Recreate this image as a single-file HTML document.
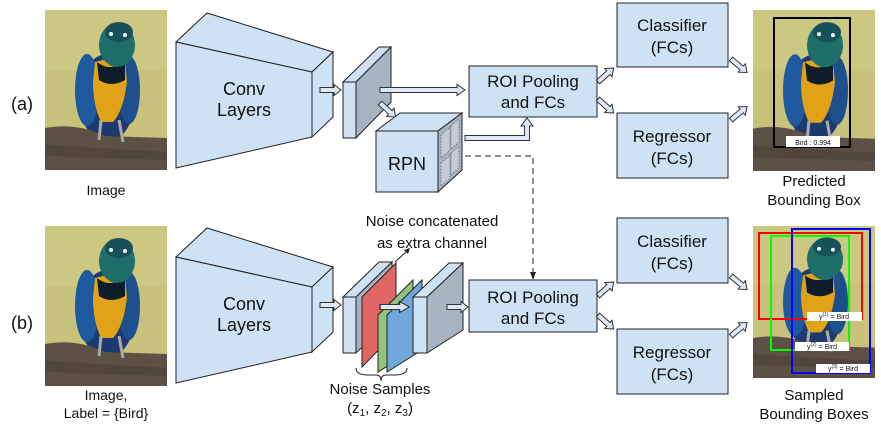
<!DOCTYPE html>
<html><head><meta charset="utf-8"><style>
html,body{margin:0;padding:0;background:#fff;}
svg{display:block;}
text{font-family:"Liberation Sans",Arial,sans-serif;fill:#111;}
</style></head><body>
<svg width="881" height="427" viewBox="0 0 881 427" xmlns="http://www.w3.org/2000/svg">
<defs>
<symbol id="bird" viewBox="0 0 122 160" preserveAspectRatio="none">
<rect x="0" y="0" width="122" height="160" fill="#c8c27c"/>
<rect x="0" y="0" width="122" height="60" fill="#cfc985" opacity="0.6"/>
<ellipse cx="62" cy="88" rx="28" ry="44" fill="#1d3a6e"/>
<ellipse cx="42" cy="80" rx="12" ry="36" fill="#1f5aa0"/>
<ellipse cx="84" cy="80" rx="11" ry="34" fill="#1c4f8c"/>
<path d="M50 52 Q62 48 80 50 L82 72 Q78 102 68 112 L56 112 Q48 95 48 72 Z" fill="#e0a318"/>
<path d="M52 52 Q64 62 80 52 L80 70 Q66 78 54 70 Z" fill="#0f1c2a"/>
<ellipse cx="72" cy="35" rx="18" ry="22" fill="#1e6e6a"/>
<ellipse cx="74" cy="22" rx="14" ry="10" fill="#17525a"/>
<circle cx="66" cy="24" r="2" fill="#fff"/><circle cx="80" cy="25" r="2" fill="#fff"/>
<path d="M0 118 Q30 112 60 126 L122 128 L122 160 L0 160 Z" fill="#5d5045"/>
<path d="M0 135 L122 142 L122 150 L0 146 Z" fill="#4a3f36" opacity="0.6"/>
<path d="M56 110 L54 130 M74 110 L78 132" stroke="#aaa" stroke-width="3"/>
</symbol>
<polygon id="ba" points="0,-2.5 14,-2.5 14,-5.5 21,0 14,5.5 14,2.5 0,2.5" fill="#dce8f5" stroke="#333" stroke-width="1"/>
</defs>

<!-- images -->
<use href="#bird" x="45" y="10" width="122" height="160"/>
<use href="#bird" x="45" y="226" width="122" height="160"/>
<use href="#bird" x="753" y="10" width="122" height="161"/>
<use href="#bird" x="753" y="226" width="122" height="152"/>

<text x="22" y="110" font-size="18" text-anchor="middle">(a)</text>
<text x="22" y="329" font-size="18" text-anchor="middle">(b)</text>
<text x="106" y="195" font-size="14" text-anchor="middle">Image</text>
<text x="106" y="400" font-size="14" text-anchor="middle">Image,</text>
<text x="106" y="418" font-size="14" text-anchor="middle">Label = {Bird}</text>

<!-- conv top -->
<g stroke="#222" stroke-width="1" fill="#cfe2f3">
<polygon points="176,42 207,13 333,52 312,72"/>
<polygon points="312,72 333,52 333,117 312,137"/>
<polygon points="176,42 312,72 312,137 176,168"/>
</g>
<text x="244" y="95" font-size="18" text-anchor="middle">Conv</text>
<text x="244" y="116" font-size="18" text-anchor="middle">Layers</text>
<!-- conv bottom -->
<g stroke="#222" stroke-width="1" fill="#cfe2f3">
<polygon points="176,257 207,228 333,267 312,287"/>
<polygon points="312,287 333,267 333,332 312,352"/>
<polygon points="176,257 312,287 312,352 176,383"/>
</g>
<text x="244" y="310" font-size="18" text-anchor="middle">Conv</text>
<text x="244" y="331" font-size="18" text-anchor="middle">Layers</text>

<!-- top slab -->
<use href="#ba" transform="translate(320,90)"/>
<g stroke="#222" stroke-width="1">
<polygon points="343,82 379,47 391,47 356,82" fill="#cfe2f3"/>
<polygon points="356,82 391,47 391,102 356,138" fill="#a6b4c2"/>
<polygon points="343,82 356,82 356,138 343,138" fill="#cfe2f3"/>
</g>
<polygon points="380,87.5 457,87.5 457,84.5 465,90 457,95.5 457,92.5 380,92.5" fill="#dce8f5" stroke="#333"/>
<use href="#ba" transform="translate(380,103) rotate(42)"/>

<!-- RPN -->
<g stroke="#222" stroke-width="1">
<polygon points="376,131 400,113 462,113 438,131" fill="#cfe2f3"/>
<polygon points="438,131 462,113 462,170 438,192" fill="#a6b4c2"/>
<rect x="376" y="131" width="62" height="61" fill="#cfe2f3"/>
</g>
<g stroke="#666" stroke-width="0.8" stroke-dasharray="1.5,1.5" fill="#c0ccd8">
<polygon points="441,135 450,127 450,150 441,158"/>
<polygon points="451,126 459,119 459,142 451,149"/>
<polygon points="441,163 450,155 450,178 441,186"/>
<polygon points="451,153 459,146 459,168 451,175"/>
</g>
<text x="407" y="170" font-size="18" text-anchor="middle">RPN</text>
<polygon points="465,135.5 524.5,135.5 524.5,126 521,126 527,118 533,126 529.5,126 529.5,140.5 465,140.5" fill="#dce8f5" stroke="#333"/>
<polyline points="465,156 533,156 533,276" fill="none" stroke="#222" stroke-dasharray="6,4"/>
<polygon points="530,272 536,272 533,280" fill="#222"/>

<!-- ROI top -->
<rect x="469" y="66" width="128" height="51" fill="#cfe2f3" stroke="#222"/>
<text x="533" y="87" font-size="17" text-anchor="middle">ROI Pooling</text>
<text x="533" y="108" font-size="17" text-anchor="middle">and FCs</text>
<rect x="617" y="3" width="111" height="64" fill="#cfe2f3" stroke="#222"/>
<text x="672" y="31" font-size="17" text-anchor="middle">Classifier</text>
<text x="672" y="53" font-size="17" text-anchor="middle">(FCs)</text>
<rect x="617" y="113" width="111" height="65" fill="#cfe2f3" stroke="#222"/>
<text x="672" y="142" font-size="17" text-anchor="middle">Regressor</text>
<text x="672" y="164" font-size="17" text-anchor="middle">(FCs)</text>
<use href="#ba" transform="translate(598,82) rotate(-42)"/>
<use href="#ba" transform="translate(598,99) rotate(42)"/>
<use href="#ba" transform="translate(731,59) rotate(40)"/>
<use href="#ba" transform="translate(731,120) rotate(-40)"/>

<!-- predicted -->
<rect x="774" y="18" width="76" height="129" fill="none" stroke="#000" stroke-width="2"/>
<rect x="786" y="136" width="54" height="11" fill="#fff"/>
<text x="813" y="145" font-size="7" text-anchor="middle">Bird : 0.994</text>
<text x="814" y="186" font-size="15" text-anchor="middle">Predicted</text>
<text x="814" y="205" font-size="15" text-anchor="middle">Bounding Box</text>

<!-- bottom slabs -->
<use href="#ba" transform="translate(320,305)"/>
<g stroke="#222" stroke-width="1">
<polygon points="343,297 379,262 392,262 356,297" fill="#cfe2f3"/>
<polygon points="356,297 392,262 392,318 356,353" fill="#a6b4c2"/>
<rect x="343" y="297" width="13" height="56" fill="#cfe2f3"/>
<polygon points="362,297 396,263 396,332 362,367" fill="#e06666"/>
<polygon points="378,315 413,280 413,350 378,372" fill="#93c47d"/>
<polygon points="387,315 422,280 422,350 387,372" fill="#6fa8dc"/>
</g>
<use href="#ba" transform="translate(380,307) scale(1.4,1)"/>
<g stroke="#222" stroke-width="1">
<polygon points="413,297 449,263 463,263 427,297" fill="#cfe2f3"/>
<polygon points="427,297 463,263 463,330 427,353" fill="#a6b4c2"/>
<rect x="413" y="297" width="14" height="56" fill="#cfe2f3"/>
</g>
<use href="#ba" transform="translate(447,307)"/>
<line x1="395" y1="262" x2="406" y2="252" stroke="#222"/>
<polygon points="404,250 410,248 408,254" fill="#222"/>
<text x="432" y="226" font-size="15" text-anchor="middle">Noise concatenated</text>
<text x="432" y="248" font-size="15" text-anchor="middle">as extra channel</text>
<path d="M356,368 Q356,375 368,375 L376,375 Q381,375 381,381 Q381,375 386,375 L394,375 Q407,375 407,368" fill="none" stroke="#222"/>
<text x="380" y="394" font-size="15" text-anchor="middle">Noise Samples</text>
<text x="380" y="413" font-size="15" text-anchor="middle">(z<tspan font-size="10" dy="3">1</tspan><tspan dy="-3">, z</tspan><tspan font-size="10" dy="3">2</tspan><tspan dy="-3">, z</tspan><tspan font-size="10" dy="3">3</tspan><tspan dy="-3">)</tspan></text>

<!-- ROI bottom -->
<rect x="469" y="280" width="128" height="52" fill="#cfe2f3" stroke="#222"/>
<text x="533" y="303" font-size="17" text-anchor="middle">ROI Pooling</text>
<text x="533" y="324" font-size="17" text-anchor="middle">and FCs</text>
<rect x="617" y="218" width="111" height="65" fill="#cfe2f3" stroke="#222"/>
<text x="672" y="247" font-size="17" text-anchor="middle">Classifier</text>
<text x="672" y="269" font-size="17" text-anchor="middle">(FCs)</text>
<rect x="617" y="329" width="111" height="65" fill="#cfe2f3" stroke="#222"/>
<text x="672" y="358" font-size="17" text-anchor="middle">Regressor</text>
<text x="672" y="380" font-size="17" text-anchor="middle">(FCs)</text>
<use href="#ba" transform="translate(598,296) rotate(-42)"/>
<use href="#ba" transform="translate(598,315) rotate(42)"/>
<use href="#ba" transform="translate(731,276) rotate(40)"/>
<use href="#ba" transform="translate(731,336) rotate(-40)"/>

<!-- sampled boxes -->
<rect x="759" y="233" width="103" height="86" fill="none" stroke="#f00" stroke-width="2"/>
<rect x="771" y="236" width="78" height="114" fill="none" stroke="#0f0" stroke-width="2"/>
<rect x="792" y="229" width="78" height="144" fill="none" stroke="#00f" stroke-width="2"/>
<rect x="807" y="312" width="55" height="9" fill="#fff"/>
<text x="834" y="319" font-size="7" text-anchor="middle">y<tspan font-size="5" dy="-3">(1)</tspan><tspan dy="3"> = Bird</tspan></text>
<rect x="795" y="342" width="54" height="9" fill="#fff"/>
<text x="822" y="349" font-size="7" text-anchor="middle">y<tspan font-size="5" dy="-3">(2)</tspan><tspan dy="3"> = Bird</tspan></text>
<rect x="816" y="364" width="54" height="9" fill="#fff"/>
<text x="843" y="371" font-size="7" text-anchor="middle">y<tspan font-size="5" dy="-3">(3)</tspan><tspan dy="3"> = Bird</tspan></text>
<text x="814" y="400" font-size="15" text-anchor="middle">Sampled</text>
<text x="814" y="419" font-size="15" text-anchor="middle">Bounding Boxes</text>
</svg>
</body></html>
